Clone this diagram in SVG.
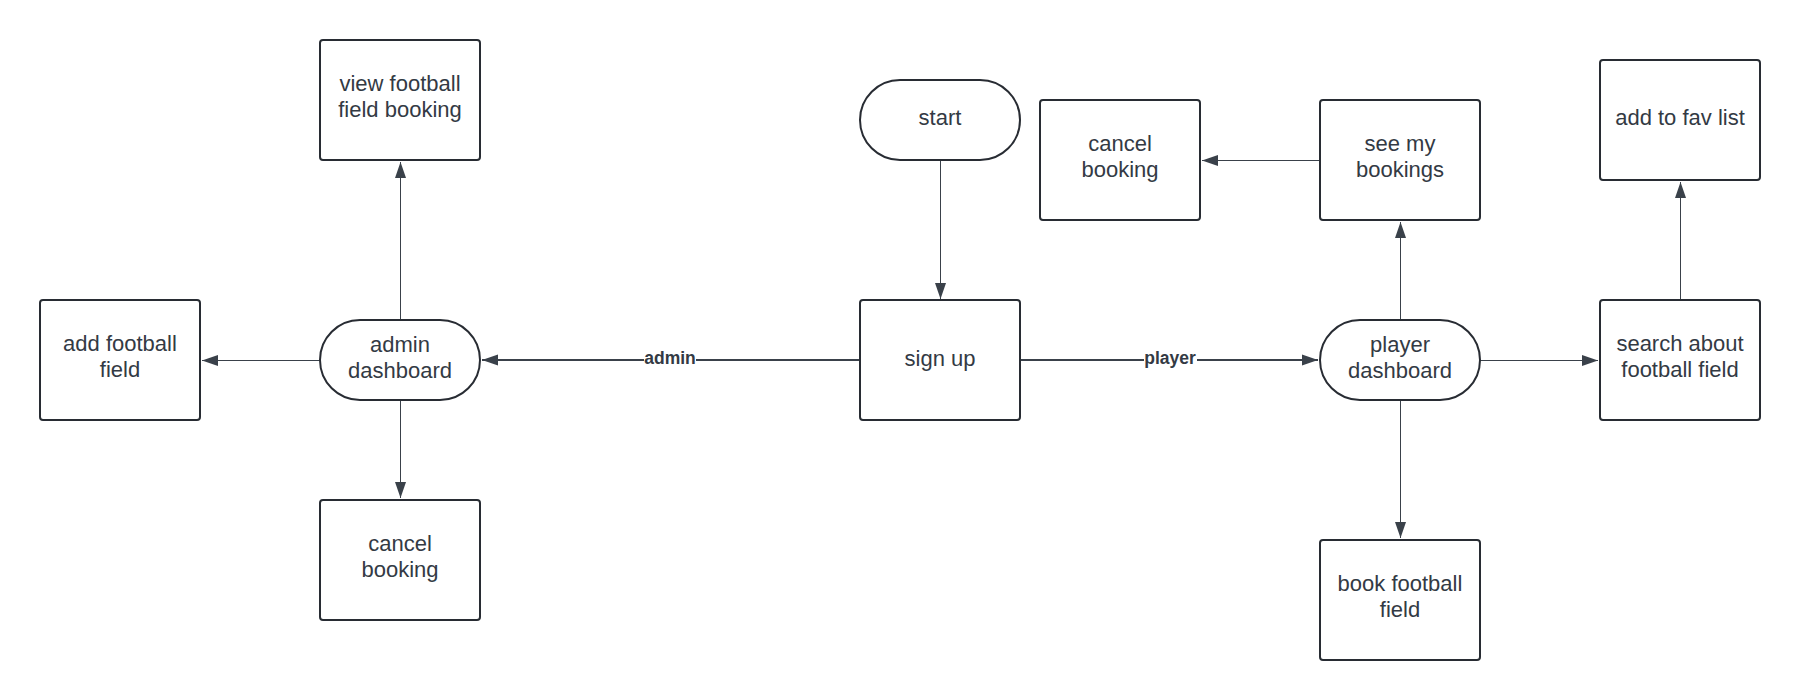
<svg xmlns="http://www.w3.org/2000/svg" width="1800" height="700" viewBox="0 0 1800 700">
<style>
.box{fill:#ffffff;stroke:#282c33;stroke-width:2}
.t{font-family:"Liberation Sans",Arial,sans-serif;font-size:22px;fill:#333a44;text-anchor:middle}
.c{fill:none;stroke:#3a414a;stroke-width:1}
.ct{fill:none;stroke:#3a414a;stroke-width:2}
.lbl{font-family:"Liberation Sans",Arial,sans-serif;font-size:17.5px;font-weight:bold;fill:#333a44;text-anchor:middle}
</style>
<defs>
<marker id="ah" markerUnits="userSpaceOnUse" markerWidth="16" markerHeight="12" refX="16" refY="6" orient="auto">
<path d="M0,0.5 L16,6 L0,11.5 Z" fill="#3a414a"/>
</marker>
</defs>
<rect width="1800" height="700" fill="#ffffff"/>
<g id="connectors">
<line class="c" x1="940.5" y1="160" x2="940.5" y2="299" marker-end="url(#ah)"/>
<line class="ct" x1="860" y1="360" x2="482" y2="360" marker-end="url(#ah)"/>
<line class="ct" x1="1020" y1="360" x2="1318" y2="360" marker-end="url(#ah)"/>
<line class="c" x1="400.5" y1="320" x2="400.5" y2="162" marker-end="url(#ah)"/>
<line class="c" x1="320" y1="360.5" x2="202" y2="360.5" marker-end="url(#ah)"/>
<line class="c" x1="400.5" y1="400" x2="400.5" y2="498" marker-end="url(#ah)"/>
<line class="c" x1="1400.5" y1="320" x2="1400.5" y2="222" marker-end="url(#ah)"/>
<line class="c" x1="1320" y1="160.5" x2="1202" y2="160.5" marker-end="url(#ah)"/>
<line class="c" x1="1400.5" y1="400" x2="1400.5" y2="538" marker-end="url(#ah)"/>
<line class="c" x1="1480" y1="360.5" x2="1598" y2="360.5" marker-end="url(#ah)"/>
<line class="c" x1="1680.5" y1="300" x2="1680.5" y2="182" marker-end="url(#ah)"/>
<rect x="644" y="348" width="52" height="22" fill="#ffffff"/>
<text class="lbl" x="670" y="364">admin</text>
<rect x="1144" y="348" width="53" height="22" fill="#ffffff"/>
<text class="lbl" x="1170" y="364">player</text>
</g>
<g id="start">
<rect class="box" x="860" y="80" width="160" height="80" rx="40" ry="40"/>
<text class="t" x="940" y="125">start</text>
</g>
<g id="sign-up">
<rect class="box" x="860" y="300" width="160" height="120" rx="3"/>
<text class="t" x="940" y="366">sign up</text>
</g>
<g id="admin-dashboard">
<rect class="box" x="320" y="320" width="160" height="80" rx="40" ry="40"/>
<text class="t" x="400" y="352">admin</text>
<text class="t" x="400" y="378">dashboard</text>
</g>
<g id="view-booking">
<rect class="box" x="320" y="40" width="160" height="120" rx="3"/>
<text class="t" x="400" y="91">view football</text>
<text class="t" x="400" y="117">field booking</text>
</g>
<g id="add-field">
<rect class="box" x="40" y="300" width="160" height="120" rx="3"/>
<text class="t" x="120" y="351">add football</text>
<text class="t" x="120" y="377">field</text>
</g>
<g id="admin-cancel">
<rect class="box" x="320" y="500" width="160" height="120" rx="3"/>
<text class="t" x="400" y="551">cancel</text>
<text class="t" x="400" y="577">booking</text>
</g>
<g id="player-dashboard">
<rect class="box" x="1320" y="320" width="160" height="80" rx="40" ry="40"/>
<text class="t" x="1400" y="352">player</text>
<text class="t" x="1400" y="378">dashboard</text>
</g>
<g id="see-bookings">
<rect class="box" x="1320" y="100" width="160" height="120" rx="3"/>
<text class="t" x="1400" y="151">see my</text>
<text class="t" x="1400" y="177">bookings</text>
</g>
<g id="player-cancel">
<rect class="box" x="1040" y="100" width="160" height="120" rx="3"/>
<text class="t" x="1120" y="151">cancel</text>
<text class="t" x="1120" y="177">booking</text>
</g>
<g id="book-field">
<rect class="box" x="1320" y="540" width="160" height="120" rx="3"/>
<text class="t" x="1400" y="591">book football</text>
<text class="t" x="1400" y="617">field</text>
</g>
<g id="search-field">
<rect class="box" x="1600" y="300" width="160" height="120" rx="3"/>
<text class="t" x="1680" y="351">search about</text>
<text class="t" x="1680" y="377">football field</text>
</g>
<g id="fav-list">
<rect class="box" x="1600" y="60" width="160" height="120" rx="3"/>
<text class="t" x="1680" y="125">add to fav list</text>
</g>
</svg>
